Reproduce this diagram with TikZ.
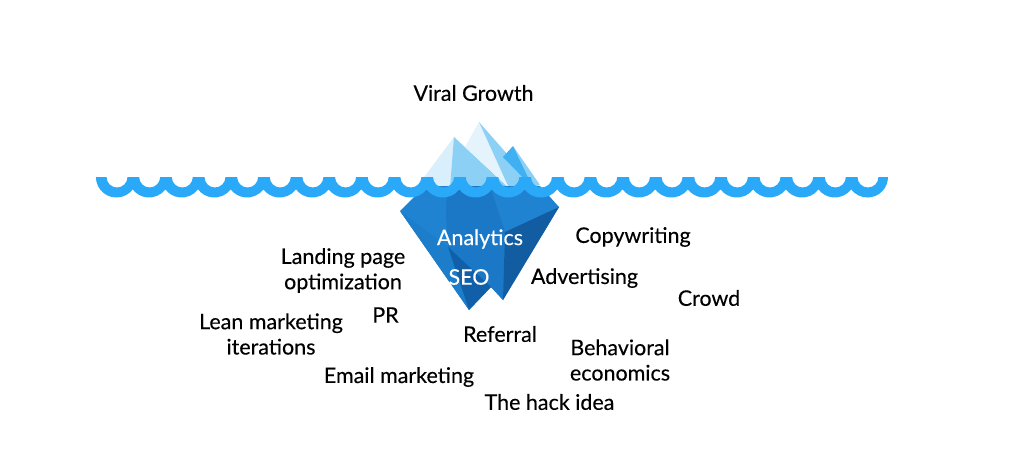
\documentclass[tikz,border=0pt]{standalone}
\usepackage{fontspec}
\setmainfont{Lato}[FakeBold=0.25]
\definecolor{wave}{HTML}{2AA9F8}
\definecolor{bA}{HTML}{1F83D2}
\definecolor{bB}{HTML}{1B78C6}
\definecolor{bC}{HTML}{1C7DCB}
\definecolor{bD}{HTML}{125CA2}
\definecolor{bE}{HTML}{105FA8}
\definecolor{tA}{HTML}{D9EFFB}
\definecolor{tB}{HTML}{8CD0F5}
\definecolor{tC}{HTML}{E4F3FC}
\definecolor{tD}{HTML}{3FB0F2}
\tikzset{x=0.75pt,y=-0.75pt,
  lbl/.style={font=\fontsize{16.1pt}{19pt}\selectfont,text=black,align=center,inner sep=0pt},
  wlbl/.style={lbl,text=white}}
\begin{document}
\begin{tikzpicture}
\useasboundingbox (0,0) rectangle (1024,465);
% upper berg
\fill[tA] (416,188) -- (454,137) -- (452,188) -- cycle;
\fill[tB] (454,137) -- (509,188) -- (450,188) -- cycle;
\fill[tC] (479,122) -- (465,147) -- (509,188) -- cycle;
\fill[tB] (479,122) -- (509,188) -- (537,188) -- cycle;
\fill[tB] (513,146) -- (540,185) -- (530,188) -- cycle;
\fill[tD] (513,146) -- (503,157) -- (533,188) -- cycle;
% lower berg
\fill[bA] (400,211) -- (425,186) -- (540,186) -- (559,207) -- (503,300) -- (491,287) -- (469,310) -- cycle;
\fill[bB] (447,186) -- (490,186) -- (505,232) -- (503,300) -- (491,287) -- (448,247) -- (446,215) -- cycle;
\fill[bC] (400,211) -- (448,247) -- (469,310) -- cycle;
\fill[bE] (448,247) -- (491,287) -- (469,310) -- cycle;
\fill[bD] (559,207) -- (505,232) -- (503,300) -- cycle;
% waves
\fill[wave] (96,177) foreach \i in {0,...,23} { -- ({117+32.65*\i-10.5},177) arc[start angle=180,end angle=0,radius=10.5] } -- (888,177)
  arc[start angle=0,end angle=142.8,radius=20.5]
  foreach \i in {22,...,1} { arc[start angle=37.2,end angle=142.8,radius=20.5] }
  arc[start angle=37.2,end angle=180,radius=20.5] -- cycle;
\node[lbl] (viral) at (473.5,93) {Viral Growth};
\node[wlbl] (analytics) at (480,239) {Analytics};
\node[wlbl] (seo) at (469,277) {SEO};
\node[lbl] (copy) at (633,237) {Copywriting};
\node[lbl] (adv) at (584.5,278) {Advertising};
\node[lbl] (crowd) at (709,298) {Crowd};
\node[lbl] (land) at (343,270.5) {Landing page\\optimization};
\node[lbl] (pr) at (385.5,315) {PR};
\node[lbl] (lean) at (271,334) {Lean marketing\\iterations};
\node[lbl] (ref) at (500,334) {Referral};
\node[lbl] (behav) at (620,360) {Behavioral\\economics};
\node[lbl] (email) at (399,377) {Email marketing};
\node[lbl] (hack) at (549.5,402) {The hack idea};
\end{tikzpicture}
\end{document}
